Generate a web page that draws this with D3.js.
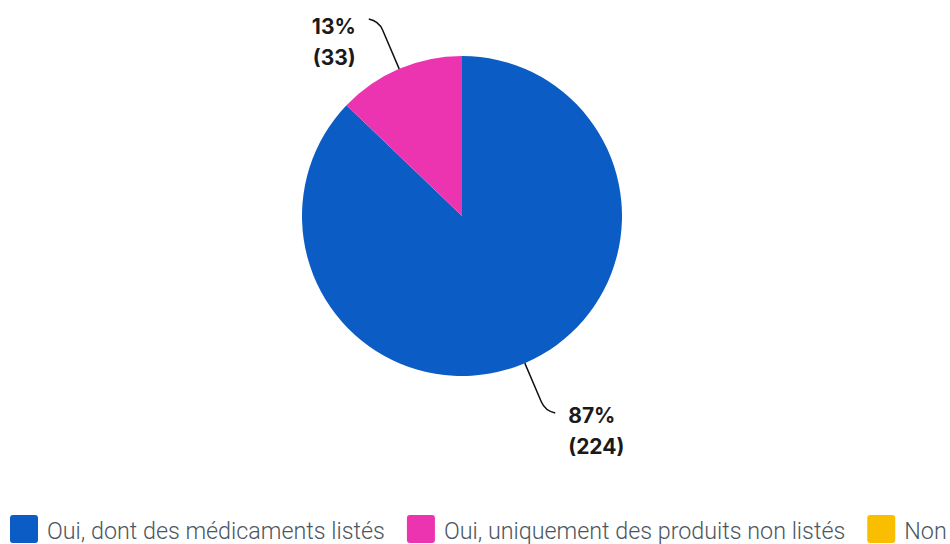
<!DOCTYPE html>
<html>
<head>
<meta charset="utf-8">
<script src="https://cdn.jsdelivr.net/npm/d3@7"></script>
<style>
  body { margin: 0; background: #fff; }
  svg { display: block; }
</style>
</head>
<body>
<svg id="chart"></svg>
<script>
const categories = ['Oui, dont des médicaments listés', 'Oui, uniquement des produits non listés', 'Non'];
const counts = [224, 33, 0];
const percents = ['87%', '13%', '0%'];
const colors = ['#0b5cc4', '#ec34b0', '#f9be00'];

const width = 950;
const height = 544;
const cx = 462, cy = 216, radius = 160;

const svg = d3.select('#chart')
  .attr('width', width)
  .attr('height', height);

const data = categories.map((c, i) => ({ name: c, value: counts[i], pct: percents[i], color: colors[i] }));

const pie = d3.pie()
  .sort(null)
  .value(d => d.value);

const arc = d3.arc()
  .innerRadius(0)
  .outerRadius(radius);

const g = svg.append('g')
  .attr('transform', `translate(${cx}, ${cy})`);

const arcs = pie(data);

g.selectAll('path.slice')
  .data(arcs)
  .enter()
  .append('path')
  .attr('class', 'slice')
  .attr('d', arc)
  .attr('fill', d => d.data.color);

// leader lines + labels
const labelFont = 'Inter, Roboto, sans-serif';
arcs.filter(d => d.value > 0).forEach(d => {
  const mid = (d.startAngle + d.endAngle) / 2;
  const pt = r => [Math.sin(mid) * r, -Math.cos(mid) * r];
  const p0 = pt(radius);
  const p1 = pt(radius + 42);
  const p2 = pt(radius + 52);
  const side = Math.sin(mid) >= 0 ? 1 : -1;
  const end = [p2[0] + side * 10, p2[1] + (Math.cos(mid) > 0 ? -2 : 2)];

  g.append('path')
    .attr('d', `M${p0[0]},${p0[1]} L${p1[0]},${p1[1]} Q${p2[0]},${p2[1]} ${end[0]},${end[1]}`)
    .attr('fill', 'none')
    .attr('stroke', '#111')
    .attr('stroke-width', 1.5);

  const tx = end[0] + side * 13;
  const ty = Math.cos(mid) > 0 ? end[1] + 15 : end[1] + 10;
  const t = g.append('text')
    .attr('x', tx)
    .attr('y', ty)
    .attr('text-anchor', side > 0 ? 'start' : 'end')
    .style('font-family', labelFont)
    .style('font-weight', 700)
    .style('font-size', '21px')
    .style('fill', '#1a1a1a');
  t.append('tspan').attr('x', tx).text(d.data.pct);
  t.append('tspan').attr('x', tx).attr('dy', 31).text(`(${d.data.value})`);
});

// legend
const legend = svg.append('g')
  .attr('transform', 'translate(10, 515)');

let xPos = 0;
data.forEach(d => {
  const item = legend.append('g')
    .attr('transform', `translate(${xPos}, 0)`);
  item.append('rect')
    .attr('width', 28)
    .attr('height', 28)
    .attr('rx', 3)
    .attr('fill', d.color);
  const txt = item.append('text')
    .attr('x', 37)
    .attr('y', 24)
    .style('font-family', 'Roboto, sans-serif')
    .style('font-weight', 300)
    .style('font-size', '23.3px')
    .style('fill', '#4b5661')
    .text(d.name);
  xPos += 37 + txt.node().getComputedTextLength() + 22;
});
</script>
</body>
</html>
